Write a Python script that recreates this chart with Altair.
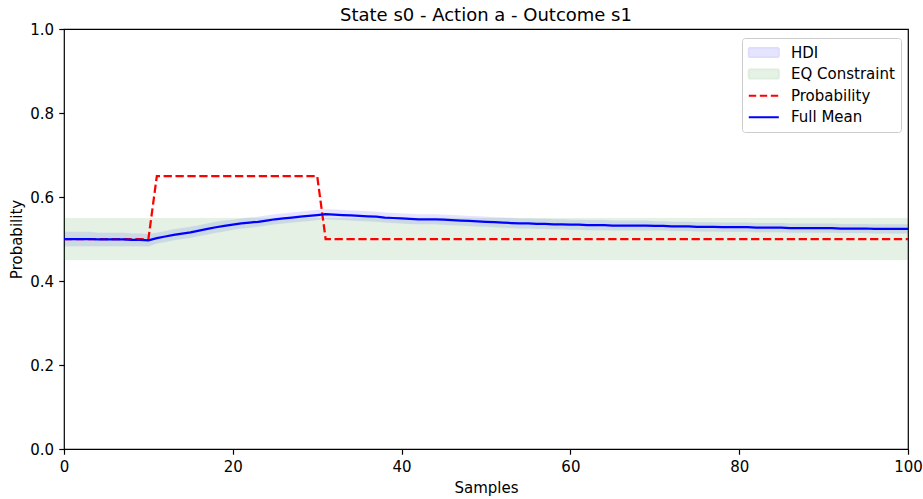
import altair as alt
import pandas as pd

# ---------------- data ----------------
samples = list(range(101))

probability = (
    [0.50] * 11      # samples 0..10
    + [0.65] * 20    # samples 11..30
    + [0.50] * 70    # samples 31..100
)

full_mean = [
    0.500, 0.500, 0.500, 0.500, 0.499, 0.499, 0.499, 0.499, 0.498, 0.498,  # 0-9
    0.497, 0.502, 0.506, 0.510, 0.513, 0.516, 0.520, 0.524, 0.528, 0.531,  # 10-19
    0.534, 0.537, 0.539, 0.541, 0.544, 0.547, 0.549, 0.551, 0.553, 0.555,  # 20-29
    0.557, 0.559, 0.558, 0.557, 0.556, 0.555, 0.554, 0.553, 0.551, 0.550,  # 30-39
    0.549, 0.548, 0.547, 0.547, 0.547, 0.546, 0.545, 0.544, 0.543, 0.542,  # 40-49
    0.541, 0.540, 0.539, 0.538, 0.537, 0.537, 0.536, 0.536, 0.535, 0.535,  # 50-59
    0.534, 0.534, 0.533, 0.533, 0.533, 0.532, 0.532, 0.532, 0.532, 0.532,  # 60-69
    0.531, 0.531, 0.530, 0.530, 0.530, 0.529, 0.529, 0.529, 0.528, 0.528,  # 70-79
    0.528, 0.528, 0.527, 0.527, 0.527, 0.527, 0.526, 0.526, 0.526, 0.526,  # 80-89
    0.526, 0.526, 0.525, 0.525, 0.525, 0.525, 0.524, 0.524, 0.524, 0.524,  # 90-99
    0.524,                                                                 # 100
]

hdi_half_width = [
    0.017, 0.017, 0.017, 0.017, 0.016, 0.016, 0.016, 0.016, 0.015, 0.015,  # 0-9
    0.015, 0.013, 0.013, 0.013, 0.013, 0.013, 0.013, 0.013, 0.013, 0.013,  # 10-19
    0.012, 0.012, 0.012, 0.012, 0.012, 0.012, 0.012, 0.012, 0.012, 0.012,  # 20-29
    0.012, 0.012, 0.012, 0.012, 0.012, 0.012, 0.012, 0.012, 0.012, 0.012,  # 30-39
    0.012, 0.012, 0.012, 0.012, 0.012, 0.012, 0.012, 0.012, 0.012, 0.012,  # 40-49
    0.012, 0.012, 0.012, 0.012, 0.012, 0.012, 0.012, 0.012, 0.012, 0.012,  # 50-59
    0.012, 0.012, 0.012, 0.012, 0.012, 0.012, 0.012, 0.012, 0.012, 0.012,  # 60-69
    0.011, 0.011, 0.011, 0.011, 0.011, 0.011, 0.011, 0.011, 0.011, 0.011,  # 70-79
    0.011, 0.011, 0.011, 0.011, 0.011, 0.011, 0.011, 0.011, 0.011, 0.011,  # 80-89
    0.011, 0.011, 0.011, 0.011, 0.011, 0.011, 0.011, 0.011, 0.011, 0.011,  # 90-99
    0.011,                                                                 # 100
]

eq_x = [0, 100]
eq_low = [0.45, 0.45]
eq_high = [0.55, 0.55]

series_names = ["HDI", "EQ Constraint", "Probability", "Full Mean"]

x_ticks = [0, 20, 40, 60, 80, 100]
y_ticks = [0.0, 0.2, 0.4, 0.6, 0.8, 1.0]

title_text = "State s0 - Action a - Outcome s1"
x_title = "Samples"
y_title = "Probability"

# ---------------- tables ----------------
df = pd.DataFrame({
    "x": samples,
    "prob": probability,
    "mean": full_mean,
    "lo": [m - h for m, h in zip(full_mean, hdi_half_width)],
    "hi": [m + h for m, h in zip(full_mean, hdi_half_width)],
})
eq_df = pd.DataFrame({"x": eq_x, "lo": eq_low, "hi": eq_high})
legend_df = pd.DataFrame({"series": series_names})

FONT = "DejaVu Sans"
LW = 2.25
DASH = [8.3, 3.6]

PATCH = "M-2,-0.6H2V0.6H-2Z"
LINE = "M-2,0H2"

legend = alt.Legend(
    title=None,
    orient="none",
    legendX=678,
    legendY=9,
    padding=6,
    rowPadding=4.6,
    symbolOffset=7.3,
    labelOffset=18.7,
    labelFont=FONT,
    labelFontSize=15,
    labelColor="black",
    fillColor="rgba(255,255,255,0.8)",
    strokeColor="#cccccc",
    cornerRadius=3,
    symbolSize=225,
    symbolOpacity=1,
    symbolStrokeWidth=2,
    symbolFillColor={"expr": "datum.value === 'HDI' ? '#e5e5ff' : (datum.value === 'EQ Constraint' ? '#e5f2e5' : 'transparent')"},
    symbolStrokeColor={"expr": "datum.value === 'HDI' ? '#dedefc' : (datum.value === 'EQ Constraint' ? '#deeede' : (datum.value === 'Probability' ? 'red' : 'blue'))"},
    symbolDash={"expr": "datum.value === 'Probability' ? [7.4, 3.6] : [1, 0]"},
)

x_enc = alt.X(
    "x:Q",
    scale=alt.Scale(domain=[0, 100], nice=False),
    axis=alt.Axis(values=x_ticks, title=x_title, format="d"),
)
y_scale = alt.Scale(domain=[0, 1], nice=False)
y_axis = alt.Axis(values=y_ticks, title=y_title, format=".1f")

base = alt.Chart(df)

hdi = base.mark_area(
    color="blue", opacity=0.1, stroke="blue", strokeWidth=1, strokeOpacity=0.1
).encode(
    x=x_enc,
    y=alt.Y("lo:Q", scale=y_scale, axis=y_axis),
    y2="hi:Q",
)

eq = alt.Chart(eq_df).mark_area(
    color="green", opacity=0.1, stroke="green", strokeWidth=1, strokeOpacity=0.1
).encode(
    x=x_enc,
    y=alt.Y("lo:Q", scale=y_scale, axis=y_axis),
    y2="hi:Q",
)

prob = base.mark_line(color="red", strokeWidth=LW, strokeDash=DASH).encode(
    x=x_enc,
    y=alt.Y("prob:Q", scale=y_scale, axis=y_axis),
)

mean = base.mark_line(color="blue", strokeWidth=LW).encode(
    x=x_enc,
    y=alt.Y("mean:Q", scale=y_scale, axis=y_axis),
)

# legend-only layer: its rows are filtered away, it only carries the legend
legend_layer = alt.Chart(legend_df).mark_point().transform_filter("false").encode(
    shape=alt.Shape(
        "series:N",
        scale=alt.Scale(domain=series_names, range=[PATCH, PATCH, LINE, LINE]),
        legend=legend,
    ),
    fill=alt.Fill("series:N", legend=None),
    stroke=alt.Stroke("series:N", legend=None),
)

chart = alt.layer(hdi, eq, prob, mean, legend_layer).properties(
    width=844,
    height=420,
    autosize=alt.AutoSizeParams(type="none"),
    padding={"left": 64, "top": 29, "right": 15, "bottom": 50},
    title=alt.Title(
        title_text,
        font=FONT,
        fontSize=18,
        fontWeight="normal",
        color="black",
        anchor="middle",
        offset=-3,
    ),
).resolve_scale(
    fill="independent", stroke="independent"
).configure_view(
    stroke="black",
    strokeWidth=1.2,
).configure_axis(
    grid=False,
    domain=False,
    labelFlush=False,
    tickColor="black",
    tickSize=5.25,
    tickWidth=1.2,
    labelFont=FONT,
    labelFontSize=15,
    labelColor="black",
    labelPadding=5.25,
    titleFont=FONT,
    titleFontSize=15,
    titleFontWeight="normal",
    titleColor="black",
).configure_axisX(
    titlePadding=6,
).configure_axisY(
    titlePadding=5.5,
)

chart.save("out.html", embed_options={"renderer": "svg", "actions": False})
